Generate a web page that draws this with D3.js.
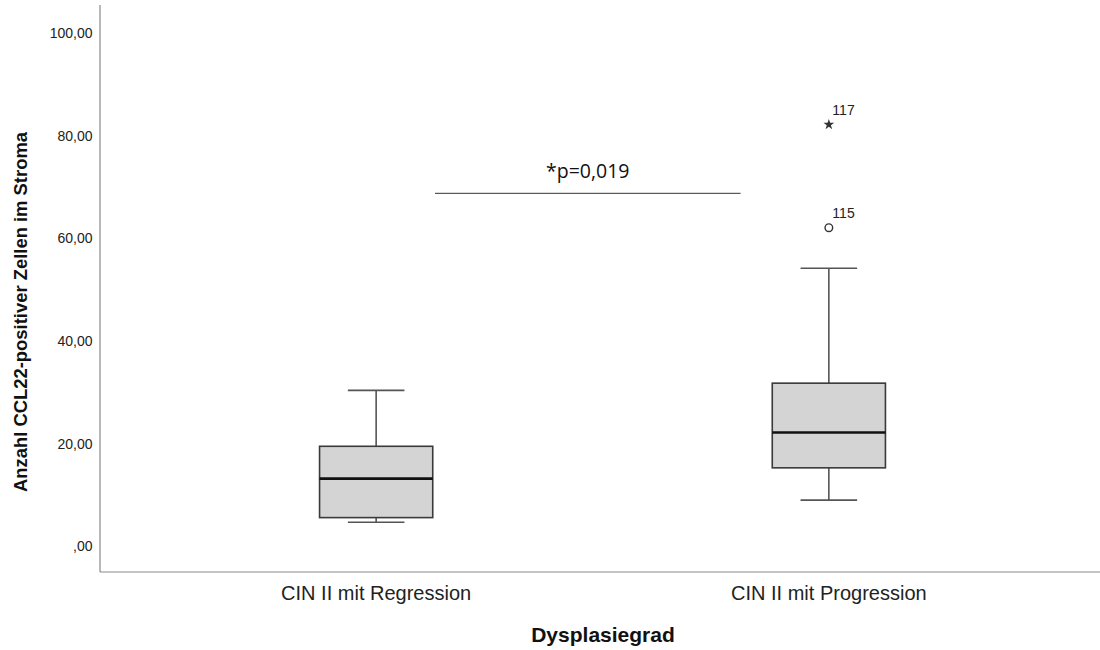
<!DOCTYPE html>
<html><head><meta charset="utf-8">
<script src="https://cdn.jsdelivr.net/npm/d3@7"></script>
<style>body{margin:0;background:#fff}svg{display:block}</style>
</head><body>
<svg id="c" width="1100" height="650"></svg>
<script>
const categories = ["CIN II mit Regression", "CIN II mit Progression"];
const whiskerLow  = [4.7, 9.0];
const q1          = [5.6, 15.3];
const median      = [13.2, 22.2];
const q3          = [19.5, 31.8];
const whiskerHigh = [30.4, 54.2];
const outliers = [
  {cat: "CIN II mit Progression", value: 62.1, label: "115", type: "circle"},
  {cat: "CIN II mit Progression", value: 82.2, label: "117", type: "star"}
];
const yTicks = [0, 20, 40, 60, 80, 100];
const sigValue = 68.8;
const sigText = "*p=0,019";

const svg = d3.select("#c");
const x = d3.scalePoint().domain(categories).range([100, 1105]).padding(0.61);
const y = d3.scaleLinear().domain([-5, 105.5]).range([572, 5]);
const step = x.step();
const boxW = step * 0.25;
const capW = boxW / 2;
const fmt = v => { const s = d3.format(".2f")(v).replace(".", ","); return s.startsWith("0,") ? s.slice(1) : s; };
const FONT = "Liberation Sans, Arial, sans-serif";

// axes lines
svg.append("line").attr("x1", 100).attr("x2", 100).attr("y1", y.range()[1]).attr("y2", y.range()[0])
  .attr("stroke", "#8a8a8a").attr("stroke-width", 1.2);
svg.append("line").attr("x1", 100).attr("x2", 1100).attr("y1", y.range()[0]).attr("y2", y.range()[0])
  .attr("stroke", "#8a8a8a").attr("stroke-width", 1.2);

// y tick labels
svg.selectAll(".yt").data(yTicks).enter().append("text")
  .attr("x", 92.5).attr("y", d => y(d) + 5).attr("text-anchor", "end")
  .attr("font-family", FONT).attr("font-size", 14).attr("fill", "#222")
  .text(fmt);

// boxes
const data = categories.map((c, i) => ({c, lo: whiskerLow[i], q1: q1[i], med: median[i], q3: q3[i], hi: whiskerHigh[i]}));
const g = svg.selectAll(".box").data(data).enter().append("g");
g.append("line").attr("x1", d => x(d.c)).attr("x2", d => x(d.c)).attr("y1", d => y(d.hi)).attr("y2", d => y(d.q3))
  .attr("stroke", "#555").attr("stroke-width", 1.6);
g.append("line").attr("x1", d => x(d.c)).attr("x2", d => x(d.c)).attr("y1", d => y(d.q1)).attr("y2", d => y(d.lo))
  .attr("stroke", "#555").attr("stroke-width", 1.6);
g.append("line").attr("x1", d => x(d.c) - capW/2).attr("x2", d => x(d.c) + capW/2).attr("y1", d => y(d.hi)).attr("y2", d => y(d.hi))
  .attr("stroke", "#555").attr("stroke-width", 1.6);
g.append("line").attr("x1", d => x(d.c) - capW/2).attr("x2", d => x(d.c) + capW/2).attr("y1", d => y(d.lo)).attr("y2", d => y(d.lo))
  .attr("stroke", "#555").attr("stroke-width", 1.6);
g.append("rect").attr("x", d => x(d.c) - boxW/2).attr("width", boxW)
  .attr("y", d => y(d.q3)).attr("height", d => y(d.q1) - y(d.q3))
  .attr("fill", "#d4d4d4").attr("stroke", "#3a3a3a").attr("stroke-width", 1.6);
g.append("line").attr("x1", d => x(d.c) - boxW/2).attr("x2", d => x(d.c) + boxW/2).attr("y1", d => y(d.med)).attr("y2", d => y(d.med))
  .attr("stroke", "#111").attr("stroke-width", 2.6);

// outliers
outliers.forEach(o => {
  const cx = x(o.cat), cy = y(o.value);
  if (o.type === "circle") {
    svg.append("circle").attr("cx", cx).attr("cy", cy).attr("r", 3.8).attr("fill", "none").attr("stroke", "#333").attr("stroke-width", 1.4);
  } else {
    svg.append("path").attr("transform", `translate(${cx},${cy})`)
      .attr("d", d3.symbol().type(d3.symbolStar).size(36)()).attr("fill", "#333");
  }
  svg.append("text").attr("x", cx + 3.5).attr("y", cy - 10).attr("font-family", FONT)
    .attr("font-size", 14).attr("fill", "#222").text(o.label);
});

// significance
const xs0 = x(categories[0]) + step * 0.13, xs1 = x(categories[1]) - step * 0.195;
svg.append("line").attr("x1", xs0).attr("x2", xs1).attr("y1", y(sigValue)).attr("y2", y(sigValue))
  .attr("stroke", "#333").attr("stroke-width", 1);
svg.append("text").attr("x", (xs0 + xs1) / 2).attr("y", y(sigValue) - 15).attr("text-anchor", "middle")
  .attr("font-family", "Open Sans, Noto Sans, sans-serif").attr("font-size", 19.5).attr("fill", "#111").text(sigText);

// category labels
svg.selectAll(".xl").data(categories).enter().append("text")
  .attr("x", d => x(d)).attr("y", 600).attr("text-anchor", "middle")
  .attr("font-family", FONT).attr("font-size", 20).attr("fill", "#222")
  .text(d => d);

// axis titles
svg.append("text").attr("x", 603).attr("y", 641.5).attr("text-anchor", "middle")
  .attr("font-family", FONT).attr("font-size", 21).attr("font-weight", "bold").attr("fill", "#111")
  .text("Dysplasiegrad");
svg.append("text").attr("transform", "translate(27,312) rotate(-90)").attr("text-anchor", "middle")
  .attr("font-family", FONT).attr("font-size", 18.5).attr("font-weight", "bold").attr("fill", "#111")
  .attr("textLength", 360).attr("lengthAdjust", "spacingAndGlyphs")
  .text("Anzahl CCL22-positiver Zellen im Stroma");
</script>
</body></html>
